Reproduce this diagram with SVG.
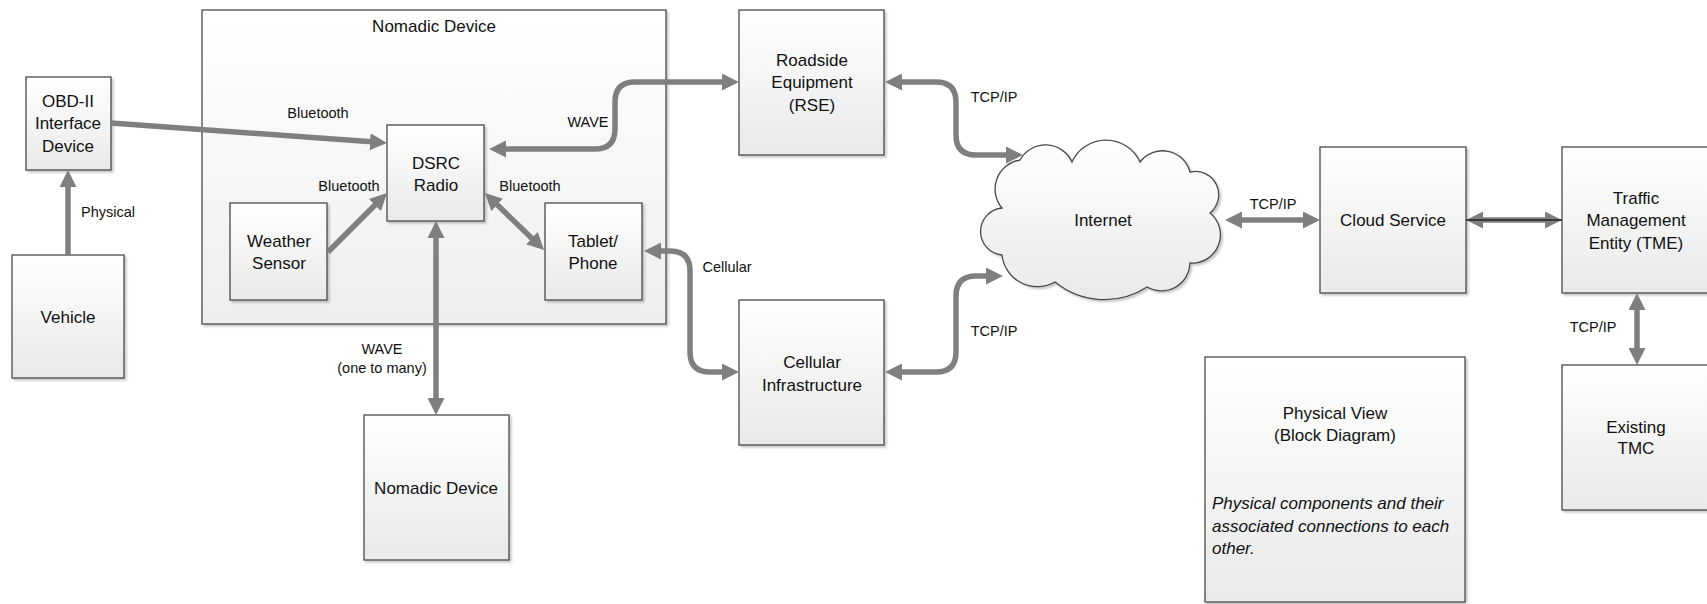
<svg xmlns="http://www.w3.org/2000/svg" width="1707" height="604" viewBox="0 0 1707 604">
  <defs>
    <linearGradient id="boxFill" x1="0" y1="0" x2="0" y2="1">
      <stop offset="0" stop-color="#ffffff"/>
      <stop offset="1" stop-color="#e9e9e9"/>
    </linearGradient>
    <linearGradient id="groupFill" x1="0" y1="0" x2="0" y2="1">
      <stop offset="0" stop-color="#ffffff"/>
      <stop offset="1" stop-color="#eeeeee"/>
    </linearGradient>
    <filter id="shadow" x="-10%" y="-10%" width="130%" height="130%">
      <feDropShadow dx="2" dy="2" stdDeviation="1.2" flood-color="#000" flood-opacity="0.22"/>
    </filter>
    <marker id="arrow" markerUnits="userSpaceOnUse" markerWidth="17" markerHeight="17" refX="5" refY="8.5" orient="auto-start-reverse">
      <path d="M0,0 L17,8.5 L0,17 Z" fill="#7f7f7f"/>
    </marker>
  </defs>
  <style>
    .box { fill: url(#boxFill); stroke: #4a4a4a; stroke-width: 1.3; filter: url(#shadow); }
    .group { fill: url(#groupFill); stroke: #4a4a4a; stroke-width: 1.3; filter: url(#shadow); }
    .label { font-family: "Liberation Sans", Arial, sans-serif; font-size: 17px; fill: #111; text-anchor: middle; }
    .note { font-family: "Liberation Sans", Arial, sans-serif; font-size: 17px; font-style: italic; fill: #111; }
    .edge-label { font-family: "Liberation Sans", Arial, sans-serif; font-size: 14.5px; fill: #111; text-anchor: middle; }
    .wire { fill: none; stroke: #7f7f7f; stroke-width: 5.5; marker-end: url(#arrow); }
    .wire2 { fill: none; stroke: #7f7f7f; stroke-width: 5.5; marker-start: url(#arrow); marker-end: url(#arrow); }
  </style>

  <rect width="1707" height="604" fill="#ffffff"/>

  <!-- Nomadic device container -->
  <g id="nomadic-device-group">
    <rect class="group" x="202" y="10" width="464" height="314"/>
    <text class="label" x="434" y="32">Nomadic Device</text>
  </g>

  <g id="obd-ii">
    <rect class="box" x="26" y="77" width="85" height="93"/>
    <text class="label" x="68" y="107">OBD-II</text>
    <text class="label" x="68" y="129">Interface</text>
    <text class="label" x="68" y="152">Device</text>
  </g>

  <g id="vehicle">
    <rect class="box" x="12" y="255" width="112" height="123"/>
    <text class="label" x="68" y="323">Vehicle</text>
  </g>

  <g id="dsrc-radio">
    <rect class="box" x="387" y="125" width="97" height="96"/>
    <text class="label" x="436" y="169">DSRC</text>
    <text class="label" x="436" y="191">Radio</text>
  </g>

  <g id="weather-sensor">
    <rect class="box" x="230" y="203" width="97" height="97"/>
    <text class="label" x="279" y="247">Weather</text>
    <text class="label" x="279" y="269">Sensor</text>
  </g>

  <g id="tablet-phone">
    <rect class="box" x="545" y="203" width="97" height="97"/>
    <text class="label" x="593" y="247">Tablet/</text>
    <text class="label" x="593" y="269">Phone</text>
  </g>

  <g id="roadside-equipment">
    <rect class="box" x="739" y="10" width="145" height="145"/>
    <text class="label" x="812" y="66">Roadside</text>
    <text class="label" x="812" y="88">Equipment</text>
    <text class="label" x="812" y="111">(RSE)</text>
  </g>

  <g id="cellular-infrastructure">
    <rect class="box" x="739" y="300" width="145" height="145"/>
    <text class="label" x="812" y="368">Cellular</text>
    <text class="label" x="812" y="391">Infrastructure</text>
  </g>

  <g id="nomadic-device">
    <rect class="box" x="364" y="415" width="145" height="145"/>
    <text class="label" x="436" y="494">Nomadic Device</text>
  </g>

  <g id="internet">
    <path class="box" d="M1002,208 A29.4,29.4 0 0 1 1020,160 A29.1,29.1 0 0 1 1072,162 A37.3,37.3 0 0 1 1140,162 A28.3,28.3 0 0 1 1190,172 A23.4,23.4 0 0 1 1210,213 A28.2,28.2 0 0 1 1190,263 A28.6,28.6 0 0 1 1147,287 A78,78 0 0 1 1055,282 A35.6,35.6 0 0 1 1002,255 A23.6,23.6 0 0 1 1002,208 Z"/>
    <text class="label" x="1103" y="226">Internet</text>
  </g>

  <g id="cloud-service">
    <rect class="box" x="1320" y="147" width="146" height="146"/>
    <text class="label" x="1393" y="226">Cloud Service</text>
  </g>

  <g id="traffic-management-entity">
    <rect class="box" x="1562" y="147" width="146" height="146"/>
    <text class="label" x="1636" y="204">Traffic</text>
    <text class="label" x="1636" y="226">Management</text>
    <text class="label" x="1636" y="249">Entity (TME)</text>
  </g>

  <g id="existing-tmc">
    <rect class="box" x="1562" y="365" width="146" height="145"/>
    <text class="label" x="1636" y="433">Existing</text>
    <text class="label" x="1636" y="454">TMC</text>
  </g>

  <g id="physical-view-note">
    <rect class="box" x="1205" y="357" width="260" height="245"/>
    <text class="label" x="1335" y="419">Physical View</text>
    <text class="label" x="1335" y="441">(Block Diagram)</text>
    <text class="note" x="1212" y="509">Physical components and their</text>
    <text class="note" x="1212" y="532">associated connections to each</text>
    <text class="note" x="1212" y="554">other.</text>
  </g>

  <!-- Connectors -->
  <g id="connectors">
    <path class="wire" d="M68,255 L68,182"/>
    <path class="wire" d="M111,123 L375,142.1"/>
    <path class="wire" d="M328,252 L378.5,201.5"/>
    <path class="wire2" d="M493.6,201.3 L535.4,241.7"/>
    <path class="wire2" d="M501,149 L595,149 Q615,149 615,129 L615,102 Q615,82 635,82 L727,82"/>
    <path class="wire2" d="M656,251 L670,251 Q690,251 690,271 L690,352 Q690,372 710,372 L727,372"/>
    <path class="wire2" d="M897,82 L936,82 Q956,82 956,102 L956,135 Q956,155 976,155 L1011,155"/>
    <path class="wire2" d="M897,372 L936,372 Q956,372 956,352 L956,296 Q956,276 976,276 L991,276"/>
    <path class="wire2" d="M1237,220 L1308,220"/>
    <path class="wire2" d="M1478,220 L1550,220"/>
    <line x1="1466" y1="220" x2="1562" y2="220" stroke="#222" stroke-width="1.3"/>
    <path class="wire2" d="M1637,305 L1637,353"/>
    <path class="wire2" d="M436,233 L436,403"/>

    <text class="edge-label" x="108" y="217">Physical</text>
    <text class="edge-label" x="318" y="118">Bluetooth</text>
    <text class="edge-label" x="349" y="191">Bluetooth</text>
    <text class="edge-label" x="530" y="191">Bluetooth</text>
    <text class="edge-label" x="588" y="127">WAVE</text>
    <text class="edge-label" x="727" y="272">Cellular</text>
    <text class="edge-label" x="994" y="102">TCP/IP</text>
    <text class="edge-label" x="994" y="336">TCP/IP</text>
    <text class="edge-label" x="1273" y="209">TCP/IP</text>
    <text class="edge-label" x="1593" y="332">TCP/IP</text>
    <text class="edge-label" x="382" y="354">WAVE</text>
    <text class="edge-label" x="382" y="373">(one to many)</text>
  </g>
</svg>
